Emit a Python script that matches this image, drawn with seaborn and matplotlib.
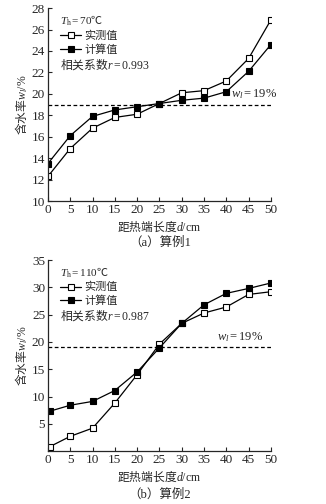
import numpy as np
import pandas as pd
import matplotlib
matplotlib.use("Agg")
import matplotlib.pyplot as plt
import seaborn as sns

# ---- data ----
d1 = [0, 5, 10, 15, 20, 25, 30, 35, 40, 45, 50]
meas1 = [12.3, 14.9, 16.8, 17.8, 18.1, 19.1, 20.1, 20.3, 21.2, 23.3, 26.9]
calc1 = [13.5, 16.1, 17.9, 18.5, 18.8, 19.1, 19.4, 19.6, 20.2, 22.1, 24.6]

d2 = [0.4, 5, 10, 15, 20, 25, 30, 35, 40, 45, 50]
meas2 = [0.8, 2.7, 4.2, 8.8, 14.0, 19.6, 23.4, 25.3, 26.4, 28.7, 29.2]
calc2 = [7.3, 8.4, 9.1, 11.1, 14.5, 18.9, 23.4, 26.8, 28.9, 29.8, 30.8]

series_labels = ["实测值", "计算值"]
th_labels = [r"$T_\mathrm{h}\mathrm{=70}$℃", r"$T_\mathrm{h}\mathrm{=110}$℃"]
r_labels = [r"相关系数$r\mathrm{=0.993}$", r"相关系数$r\mathrm{=0.987}$"]
captions = ["（a）算例1", "（b）算例2"]
wl_value = 19
xticks = list(range(0, 55, 5))
yticks1 = list(range(10, 30, 2))
yticks2 = list(range(5, 40, 5))

sns.set_style("ticks")
plt.rcParams["font.family"] = ["Liberation Serif", "Noto Sans CJK SC"]
plt.rcParams["mathtext.fontset"] = "custom"
plt.rcParams["mathtext.rm"] = "Liberation Serif"
plt.rcParams["mathtext.it"] = "Liberation Serif:italic"
plt.rcParams["xtick.direction"] = "in"
plt.rcParams["ytick.direction"] = "in"
plt.rcParams["axes.linewidth"] = 0.9

fig = plt.figure(figsize=(3.26, 5.04), dpi=100)
ax1 = fig.add_axes([0.147, 0.601, 0.684, 0.383])
ax2 = fig.add_axes([0.147, 0.105, 0.684, 0.379])

cjk = "Noto Sans CJK SC"
fs = 8
panels = [
    (ax1, d1, meas1, calc1, (10, 28), yticks1, (41.0, 19.3)),
    (ax2, d2, meas2, calc2, (0, 35), yticks2, (38.0, 19.7)),
]

for i, (ax, d, meas, calc, ylim, yt, wpos) in enumerate(panels):
    df = pd.DataFrame({"d": d, "meas": meas, "calc": calc})
    sns.lineplot(data=df, x="d", y="meas", ax=ax, color="black", lw=0.9,
                 marker="s", markersize=4.8, markerfacecolor="white",
                 markeredgecolor="black", markeredgewidth=0.8,
                 label=series_labels[0])
    sns.lineplot(data=df, x="d", y="calc", ax=ax, color="black", lw=0.9,
                 marker="s", markersize=4.8, markerfacecolor="black",
                 markeredgecolor="black", markeredgewidth=0.8,
                 label=series_labels[1])
    ax.axhline(wl_value, color="black", lw=0.9, ls=(0, (3, 2)))
    ax.set_xlim(0, 50)
    ax.set_ylim(*ylim)
    ax.set_xticks(xticks)
    ax.set_yticks(yt)
    ax.tick_params(labelsize=9.5, length=3, width=0.8, pad=2)
    sns.despine(ax=ax)
    ax.set_xlabel(r"距热端长度$d\mathrm{/cm}$", family=cjk, fontsize=8.5, labelpad=2)
    ax.set_ylabel(r"含水率$w_l\mathrm{/\%}$", family=cjk, fontsize=8.5, labelpad=1)
    ax.text(0.055, 0.935, th_labels[i], transform=ax.transAxes, family=cjk,
            fontsize=fs, va="center", ha="left")
    ax.text(0.055, 0.708, r_labels[i], transform=ax.transAxes, family=cjk,
            fontsize=8.5, va="center", ha="left")
    ax.text(wpos[0], wpos[1], r"$w_l\mathrm{=19\%}$", fontsize=9, va="bottom", ha="left")
    ax.legend(loc="upper left", bbox_to_anchor=(0.055, 0.885), frameon=False,
              handlelength=1.9, handletextpad=0.3, labelspacing=0.3,
              borderpad=0, borderaxespad=0, prop={"family": cjk, "size": fs})

fig.text(0.49, 1 - 243 / 504, captions[0], ha="center", va="center", fontsize=9)
fig.text(0.49, 1 - 495 / 504, captions[1], ha="center", va="center", fontsize=9)

fig.savefig("out.png", dpi=100)
